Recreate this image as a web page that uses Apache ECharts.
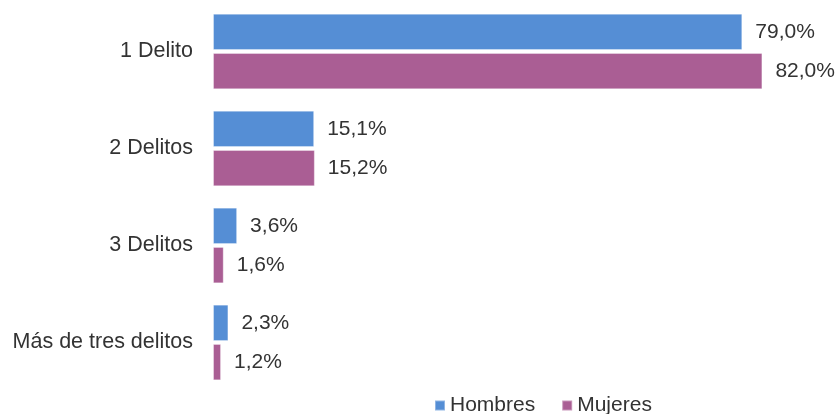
<!DOCTYPE html>
<html><head><meta charset="utf-8">
<script src="https://cdn.jsdelivr.net/npm/echarts@6/dist/echarts.min.js"></script>
<style>html,body{margin:0;padding:0;background:#fff}#c{width:840px;height:414px}</style>
</head><body><div id="c"></div>
<script>
const categories = ['1 Delito', '2 Delitos', '3 Delitos', 'Más de tres delitos'];
const hombres = [79.0, 15.1, 3.6, 2.3];
const mujeres = [82.0, 15.2, 1.6, 1.2];
const seriesNames = ['Hombres', 'Mujeres'];
const colors = ['#558ED5', '#AA5E94'];
const font = '"Liberation Sans", Arial, Helvetica, sans-serif';
const fmt = p => p.value.toFixed(1).replace('.', ',') + '%';
const chart = echarts.init(document.getElementById('c'));
const mk = (name, data, color) => ({
  name, type: 'bar', data, barGap: '8%', barCategoryGap: '22%',
  itemStyle: { color, borderColor: 'rgba(255,255,255,0.35)', borderWidth: 1 },
  label: { show: true, position: 'right', distance: 13, formatter: fmt,
    color: '#333', fontSize: 21, fontFamily: font }
});
chart.setOption({
  animation: false,
  textStyle: { fontFamily: font },
  grid: { left: 213, right: 24, top: 3, bottom: 23, containLabel: false },
  xAxis: { type: 'value', min: 0, max: 90, show: false },
  yAxis: { type: 'category', data: categories, inverse: true,
    axisLine: { show: false }, axisTick: { show: false },
    axisLabel: { margin: 20, color: '#333', fontSize: 21.5, fontFamily: font } },
  legend: { top: 395, left: 434, padding: 0, itemWidth: 10, itemHeight: 10, itemGap: 26,
    icon: 'rect', textStyle: { fontSize: 21, color: '#333', fontFamily: font } },
  series: [mk(seriesNames[0], hombres, colors[0]), mk(seriesNames[1], mujeres, colors[1])]
});
</script></body></html>
